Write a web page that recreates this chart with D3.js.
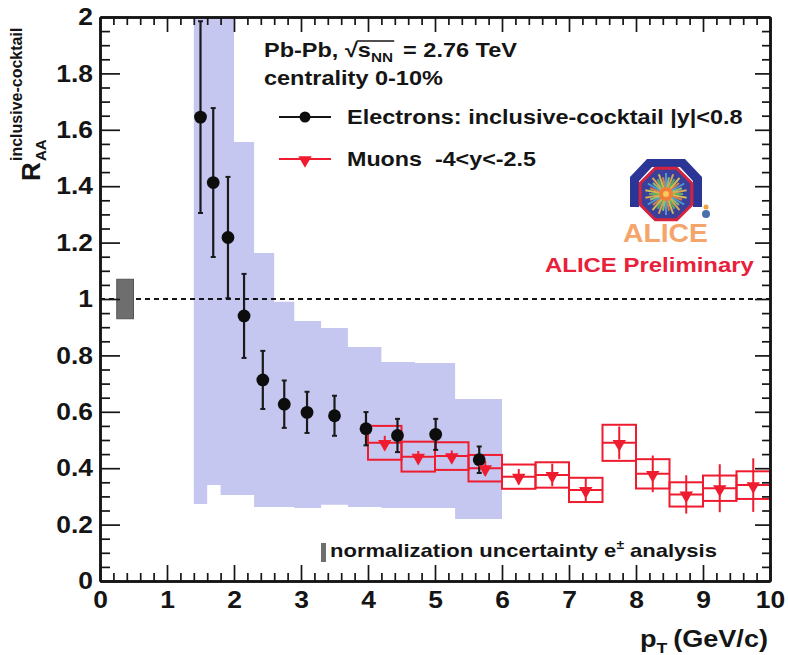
<!DOCTYPE html>
<html><head><meta charset="utf-8">
<script src="https://cdn.jsdelivr.net/npm/d3@7"></script>
<style>
body{margin:0;background:#fff}
svg{display:block}
text{font-family:"Liberation Sans",Arial,Helvetica,sans-serif;font-weight:bold;white-space:pre}
</style>
</head><body>
<svg id="c" width="788" height="655"></svg>
<script>
// ---------------- data ----------------
// Electrons (inclusive - cocktail, |y|<0.8)
const ePt   = [1.5, 1.69, 1.91, 2.15, 2.43, 2.75, 3.09, 3.5, 3.97, 4.44, 5.01, 5.66];
const eVal  = [1.645, 1.413, 1.218, 0.94, 0.713, 0.627, 0.598, 0.586, 0.54, 0.516, 0.52, 0.43];
const eStat = [0.34, 0.264, 0.215, 0.149, 0.103, 0.084, 0.073, 0.071, 0.059, 0.059, 0.055, 0.047];
// Electron systematic band (bins)
const eBinLo = [1.4, 1.6, 1.8, 2.0, 2.3, 2.6, 2.9, 3.3, 3.7, 4.2, 4.7, 5.3];
const eBinHi = [1.6, 1.8, 2.0, 2.3, 2.6, 2.9, 3.3, 3.7, 4.2, 4.7, 5.3, 6.0];
const eSysHi = [2.3, 2.3, 2.3, 1.557, 1.163, 0.99, 0.922, 0.897, 0.83, 0.777, 0.773, 0.645];
const eSysLo = [0.273, 0.34, 0.305, 0.305, 0.262, 0.262, 0.259, 0.27, 0.262, 0.259, 0.259, 0.22];
// Muons (-4<y<-2.5)
const mLo   = [4.0, 4.5, 5.0, 5.5, 6.0, 6.5, 7.0, 7.5, 8.0, 8.5, 9.0, 9.5];
const mHi   = [4.5, 5.0, 5.5, 6.0, 6.5, 7.0, 7.5, 8.0, 8.5, 9.0, 9.5, 10.0];
const mVal  = [0.49, 0.441, 0.443, 0.40, 0.37, 0.376, 0.323, 0.49, 0.38, 0.307, 0.329, 0.34];
const mStat = [0.025, 0.02, 0.02, 0.025, 0.027, 0.04, 0.045, 0.058, 0.065, 0.068, 0.085, 0.095];
const mSys  = [0.06, 0.053, 0.049, 0.047, 0.043, 0.045, 0.043, 0.064, 0.052, 0.043, 0.045, 0.049];
// Normalisation uncertainty (e analysis)
const normUnc = 0.07;
const normPt  = [0.25, 0.5];
// ticks
const xMajor = [0,1,2,3,4,5,6,7,8,9,10];
const xTickLabels = ["0","1","2","3","4","5","6","7","8","9","10"];
const yMajor = [0,0.2,0.4,0.6,0.8,1.0,1.2,1.4,1.6,1.8,2.0];
const yTickLabels = ["0","0.2","0.4","0.6","0.8","1","1.2","1.4","1.6","1.8","2"];

// ---------------- setup ----------------
const RED = "#ee1c2e";
const BAND = "#c6c7f1";
const INK = "#151515";
const svg = d3.select("#c");
const x = d3.scaleLinear().domain([0,10]).range([100,770]);
const y = d3.scaleLinear().domain([0,2]).range([581,17]);

svg.append("defs").append("clipPath").attr("id","plot")
  .append("rect").attr("x",100).attr("y",17).attr("width",670).attr("height",564);
const plot = svg.append("g").attr("clip-path","url(#plot)");

// electron systematic band
const bandPts = [];
eBinLo.forEach((lo,i)=>{
  bandPts.push({x:lo, y0:eSysLo[i], y1:eSysHi[i]});
  bandPts.push({x:eBinHi[i], y0:eSysLo[i], y1:eSysHi[i]});
});
plot.append("path").datum(bandPts)
  .attr("d", d3.area().x(d=>x(d.x)).y0(d=>y(d.y0)).y1(d=>y(d.y1)))
  .attr("fill", BAND);

// unity line
plot.append("line").attr("x1",x(0)).attr("x2",x(10)).attr("y1",y(1)).attr("y2",y(1))
  .attr("stroke",INK).attr("stroke-width",2).attr("stroke-dasharray","5,4");

// normalisation box
plot.append("rect").attr("x",x(normPt[0])).attr("width",x(normPt[1])-x(normPt[0]))
  .attr("y",y(1+normUnc)).attr("height",y(1-normUnc)-y(1+normUnc))
  .attr("fill","#6e6e6e").attr("stroke","#555").attr("stroke-width",1);

// muon systematic boxes
const mIdx = d3.range(mVal.length);
plot.selectAll("rect.msys").data(mIdx).join("rect").attr("class","msys")
  .attr("x",i=>x(mLo[i])).attr("width",i=>x(mHi[i])-x(mLo[i]))
  .attr("y",i=>y(mVal[i]+mSys[i])).attr("height",i=>y(mVal[i]-mSys[i])-y(mVal[i]+mSys[i]))
  .attr("fill","none").attr("stroke",RED).attr("stroke-width",2);
plot.selectAll("line.mx").data(mIdx).join("line").attr("class","mx")
  .attr("x1",i=>x(mLo[i])).attr("x2",i=>x(mHi[i])).attr("y1",i=>y(mVal[i])).attr("y2",i=>y(mVal[i]))
  .attr("stroke",RED).attr("stroke-width",2);
plot.selectAll("line.my").data(mIdx).join("line").attr("class","my")
  .attr("x1",i=>x((mLo[i]+mHi[i])/2)).attr("x2",i=>x((mLo[i]+mHi[i])/2))
  .attr("y1",i=>y(mVal[i]+mStat[i])).attr("y2",i=>y(mVal[i]-mStat[i]))
  .attr("stroke",RED).attr("stroke-width",2);

// electrons
const eIdx = d3.range(eVal.length);
const eg = plot.append("g");
eg.selectAll("line.ey").data(eIdx).join("line").attr("class","ey")
  .attr("x1",i=>x(ePt[i])).attr("x2",i=>x(ePt[i]))
  .attr("y1",i=>y(eVal[i]+eStat[i])).attr("y2",i=>y(eVal[i]-eStat[i]))
  .attr("stroke","#1a1a1a").attr("stroke-width",2.2);
["+","-"].forEach(s=>{
  eg.selectAll("line.cap"+(s==="+"?"u":"d")).data(eIdx).join("line")
    .attr("x1",i=>x(ePt[i])-2.5).attr("x2",i=>x(ePt[i])+2.5)
    .attr("y1",i=>y(s==="+"?eVal[i]+eStat[i]:eVal[i]-eStat[i]))
    .attr("y2",i=>y(s==="+"?eVal[i]+eStat[i]:eVal[i]-eStat[i]))
    .attr("stroke","#1a1a1a").attr("stroke-width",2);
});
eg.selectAll("circle").data(eIdx).join("circle")
  .attr("cx",i=>x(ePt[i])).attr("cy",i=>y(eVal[i])).attr("r",6.4).attr("fill","#0d0d0d");

// muon markers
const tri = d3.symbol().type(d3.symbolTriangle).size(78);
plot.selectAll("path.mk").data(mIdx).join("path").attr("class","mk")
  .attr("d",tri)
  .attr("transform",i=>`translate(${x((mLo[i]+mHi[i])/2)},${y(mVal[i])+1}) rotate(180)`)
  .attr("fill",RED);

// ---------------- axes ----------------
function styleAxis(g){
  g.select(".domain").attr("stroke",INK).attr("stroke-width",2.5);
  g.selectAll(".tick line").attr("stroke",INK).attr("stroke-width",1.7);
  g.selectAll(".tick text").attr("fill",INK);
}
const STRETCH = 1.1;
const xMinor = d3.range(0,10.0001,0.2).filter(v=>Math.abs(v-Math.round(v))>1e-6);
const yMinor = d3.range(0,2.0001,0.05).filter(v=>Math.abs(v*5-Math.round(v*5))>1e-6);
const axFont = g=>g.attr("font-size",24).attr("font-family",'"Liberation Sans",Arial,sans-serif').attr("font-weight","bold");

svg.append("g").attr("transform","translate(0,581)")
  .call(d3.axisBottom(x).tickValues(xMinor).tickSize(-8).tickSizeOuter(0).tickFormat(""))
  .call(styleAxis);
const xb = svg.append("g").attr("transform","translate(0,581)")
  .call(d3.axisBottom(x).tickValues(xMajor).tickSize(-16).tickSizeOuter(0).tickPadding(10)
        .tickFormat((d,i)=>xTickLabels[i]))
  .call(axFont).call(styleAxis);
xb.selectAll(".tick text").attr("transform",`scale(${STRETCH},1)`);
svg.append("g").attr("transform","translate(0,17)")
  .call(d3.axisTop(x).tickValues(xMinor).tickSize(-8).tickSizeOuter(0).tickFormat(""))
  .call(styleAxis);
svg.append("g").attr("transform","translate(0,17)")
  .call(d3.axisTop(x).tickValues(xMajor).tickSize(-15).tickSizeOuter(0).tickFormat(""))
  .call(styleAxis);

svg.append("g").attr("transform","translate(100,0)")
  .call(d3.axisLeft(y).tickValues(yMinor).tickSize(-10).tickSizeOuter(0).tickFormat(""))
  .call(styleAxis);
const yl = svg.append("g").attr("transform","translate(100,0)")
  .call(d3.axisLeft(y).tickValues(yMajor).tickSize(-20).tickSizeOuter(0).tickPadding(7)
        .tickFormat((d,i)=>yTickLabels[i]))
  .call(axFont).call(styleAxis);
yl.selectAll(".tick text").attr("transform",`translate(-7,0) scale(${STRETCH},1) translate(7,0)`);
svg.append("g").attr("transform","translate(770,0)")
  .call(d3.axisRight(y).tickValues(yMinor).tickSize(-8).tickSizeOuter(0).tickFormat(""))
  .call(styleAxis);
svg.append("g").attr("transform","translate(770,0)")
  .call(d3.axisRight(y).tickValues(yMajor).tickSize(-15).tickSizeOuter(0).tickFormat(""))
  .call(styleAxis);

// ---------------- helpers ----------------
// lay out text runs left to right, then stretch the group horizontally to a target width
function runText(parent, x0, y0, parts, targetW){
  const g = parent.append("g");
  let cx = x0; const out = [];
  parts.forEach(p=>{
    const t = g.append("text").attr("x",cx).attr("y",y0+(p.dy||0))
      .attr("font-size",p.size).attr("fill",p.fill||INK).attr("xml:space","preserve").text(p.t);
    const w = t.node().getComputedTextLength();
    out.push({x:cx,w}); cx += w + (p.gap||0);
  });
  const s = targetW ? targetW/(cx-x0) : 1;
  g.attr("transform",`translate(${x0},0) scale(${s},1) translate(${-x0},0)`);
  return {g, out, s};
}

// axis titles
runText(svg, 640, 647, [
  {t:"p",size:23},{t:"T",size:15,dy:6,gap:5},{t:"(GeV/c)",size:23}
], 128);
const yt = svg.append("g").attr("transform","translate(40,181) rotate(-90)");
yt.append("text").attr("x",0).attr("y",0).attr("font-size",26).attr("fill",INK).text("R");
yt.append("text").attr("x",20).attr("y",-18).attr("font-size",16).attr("fill",INK).text("inclusive-cocktail");
yt.append("text").attr("x",20).attr("y",6).attr("font-size",15).attr("fill",INK).text("AA");

// header
const hdr = runText(svg, 264, 57, [
  {t:"Pb-Pb, ",size:20},{t:"\u221A",size:20},{t:"s",size:20},{t:"NN",size:13,dy:5,gap:3},{t:" = 2.76 TeV",size:20}
], 253);
hdr.g.append("line").attr("x1",hdr.out[1].x+hdr.out[1].w-1).attr("x2",hdr.out[3].x+hdr.out[3].w+1)
  .attr("y1",57-16).attr("y2",57-16).attr("stroke",INK).attr("stroke-width",1.3);
runText(svg, 264, 85, [{t:"centrality 0-10%",size:20}], 179);

// legend
svg.append("line").attr("x1",279).attr("x2",331).attr("y1",117).attr("y2",117).attr("stroke",INK).attr("stroke-width",2);
svg.append("circle").attr("cx",305).attr("cy",117).attr("r",5.5).attr("fill","#0d0d0d");
runText(svg, 347, 124, [{t:"Electrons: inclusive-cocktail |y|<0.8",size:21}], 396);
svg.append("line").attr("x1",279).attr("x2",331).attr("y1",159).attr("y2",159).attr("stroke",RED).attr("stroke-width",2);
svg.append("path").attr("d",tri).attr("transform","translate(305,160) rotate(180)").attr("fill",RED);
runText(svg, 347, 166, [{t:"Muons  -4<y<-2.5",size:21}], 189);

// ALICE logo
const logo = svg.append("g");
logo.append("path").attr("d","M630,207 L630,177 L647,159 L685,159 L702,177 L702,207 L693,207 L693,181 L680,167 L652,167 L639,181 L639,207 Z")
  .attr("fill","#2b3596");
const oct = d3.range(8).map(k=>{const a=Math.PI/8+k*Math.PI/4;return [666+28*Math.cos(a),194+28*Math.sin(a)];});
logo.append("polygon").attr("points",oct.map(p=>p.join(",")).join(" "))
  .attr("fill","#3b3f9c").attr("stroke","#d3243f").attr("stroke-width",3);
const rayCols = ["#5fbf5a","#e8d44a","#f08a3a","#54a9d8","#9bd46a","#f2b84b"];
d3.range(36).forEach(k=>{
  const a=k*Math.PI/18, r=(k%2?21:17);
  logo.append("line").attr("x1",666).attr("y1",194)
    .attr("x2",666+r*Math.cos(a)).attr("y2",194+r*Math.sin(a))
    .attr("stroke",rayCols[k%rayCols.length]).attr("stroke-width",2).attr("opacity",0.85);
});
logo.append("circle").attr("cx",666).attr("cy",194).attr("r",7).attr("fill","#f07d3a");
logo.append("circle").attr("cx",666).attr("cy",194).attr("r",3).attr("fill","#f9c95a");
logo.append("circle").attr("cx",706).attr("cy",207).attr("r",2.5).attr("fill","#f0a040");
logo.append("ellipse").attr("cx",706).attr("cy",214).attr("rx",4).attr("ry",4).attr("fill","#4a6fb0");
runText(svg, 623, 242, [{t:"ALICE",size:25,fill:"#f4a66a"}], 85);
runText(svg, 545, 272, [{t:"ALICE Preliminary",size:21,fill:"#e8213a"}], 209);

// normalisation legend
svg.append("rect").attr("x",321).attr("y",543).attr("width",5).attr("height",19).attr("fill","#6e6e6e");
runText(svg, 330, 557, [
  {t:"normalization uncertainty e",size:19},{t:"\u00B1",size:12,dy:-8,gap:5},{t:"analysis",size:19}
], 387);
</script>
</body></html>
